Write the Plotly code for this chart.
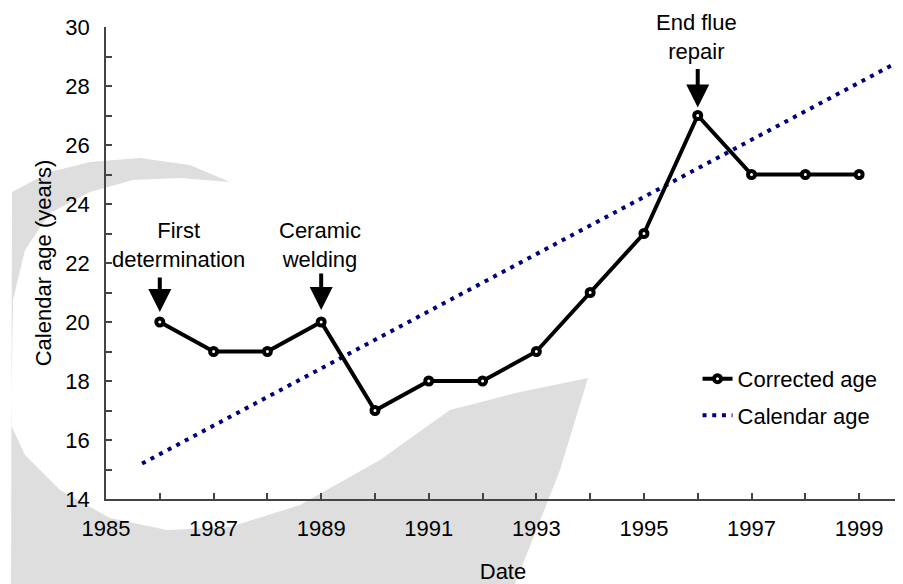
import plotly.graph_objects as go

# ---- data ----
years = [1986, 1987, 1988, 1989, 1990, 1991, 1992, 1993, 1994, 1995, 1996, 1997, 1998, 1999]
corrected_age = [20, 19, 19, 20, 17, 18, 18, 19, 21, 23, 27, 25, 25, 25]
calendar_x = [1985.67, 1999.76]
calendar_y = [15.2, 28.85]
event_labels = ["First<br>determination", "Ceramic<br>welding", "End flue<br>repair"]
event_years = [1986, 1989, 1996]
event_ages = [20, 20, 27]

FONT = "Liberation Sans, Arial, sans-serif"
FS = 22
# page body has an 8px margin, so the figure is made 8px smaller and margins compensate
W, H = 895, 576
L, R, T, B = 98, 3, 19, 85
# plot area in window pixels
PL, PR, PT, PB = 106, 900, 27, 499


def pp(X, Y):
    return (X - PL) / (PR - PL), (PB - Y) / (PB - PT)


def path(points):
    s = ""
    for i, (X, Y) in enumerate(points):
        px, py = pp(X, Y)
        s += ("M" if i == 0 else "L") + f"{px:.4f},{py:.4f} "
    return s + "Z"


fig = go.Figure()

# background watermark (decorative crescent)
crescent = [(230, 182), (190, 165), (140, 158), (90, 162), (50, 172), (12, 192), (11, 584),
            (515, 584), (560, 470), (588, 378), (520, 392), (450, 410), (380, 460), (300, 505),
            (230, 527), (167, 530), (110, 518), (60, 490), (25, 455), (11, 425), (13, 300),
            (25, 250), (50, 213), (90, 192), (133, 180), (180, 178)]
fig.add_shape(type="path", xref="paper", yref="paper", path=path(crescent),
              fillcolor="#dedede", line=dict(width=0), layer="below")

fig.add_trace(go.Scatter(
    x=calendar_x, y=calendar_y, mode="lines", name="Calendar age",
    line=dict(color="#000080", width=4, dash="4px,5.7px"), legendgroup="b", legendrank=2))
fig.add_trace(go.Scatter(
    x=years, y=corrected_age, mode="lines+markers", name="Corrected age",
    line=dict(color="black", width=4),
    marker=dict(symbol="circle", size=7, color="white", line=dict(color="black", width=4)),
    legendgroup="a", legendrank=1))

text_x = [1986.34, 1988.97, 1995.97]
text_y = [22.61, 22.61, 29.66]
arrow_ay = [-46, -50, -48]
arrow_standoff = [10, 12, 8]
for lab, ex, ey, tx, ty, ay, so in zip(event_labels, event_years, event_ages, text_x, text_y,
                                         arrow_ay, arrow_standoff):
    fig.add_annotation(x=ex, y=ey, text="", showarrow=True, ax=0, ay=ay,
                       arrowhead=2, arrowsize=1.15, arrowwidth=4, arrowcolor="black",
                       standoff=so)
    fig.add_annotation(x=tx, y=ty, text=lab, showarrow=False, xanchor="center",
                       yanchor="middle", font=dict(family=FONT, size=FS, color="black"))

axis_common = dict(showgrid=False, zeroline=False, showline=True, linecolor="#444444",
                   linewidth=1.5, ticks="inside", ticklen=6, tickwidth=1.5,
                   tickcolor="#444444", tickfont=dict(family=FONT, size=FS, color="black"))

fig.update_xaxes(range=[1985, 1999.76], tickmode="linear", tick0=1985, dtick=2,
                 minor=dict(tick0=1985, dtick=1, ticks="inside", ticklen=6,
                            tickwidth=1.5, tickcolor="#444444"),
                 ticklabelstandoff=9,
                 title=dict(text="Date", font=dict(family=FONT, size=FS, color="black"),
                            standoff=27),
                 **axis_common)
fig.update_yaxes(range=[14, 30], tickmode="linear", tick0=14, dtick=2,
                 minor=dict(tick0=14, dtick=1, ticks="inside", ticklen=6,
                            tickwidth=1.5, tickcolor="#444444"),
                 ticklabelstandoff=10,
                 title=dict(text="Calendar age (years)",
                            font=dict(family=FONT, size=FS, color="black"), standoff=8),
                 **axis_common)

fig.update_layout(
    width=W, height=H, margin=dict(l=L, r=R, t=T, b=B, autoexpand=False),
    plot_bgcolor="rgba(0,0,0,0)", paper_bgcolor="white",
    legend=dict(x=0.745, y=0.299, xanchor="left", yanchor="top", traceorder="grouped",
                tracegroupgap=5, bgcolor="rgba(0,0,0,0)",
                font=dict(family=FONT, size=FS, color="black")),
)

fig.write_html("out.html")
